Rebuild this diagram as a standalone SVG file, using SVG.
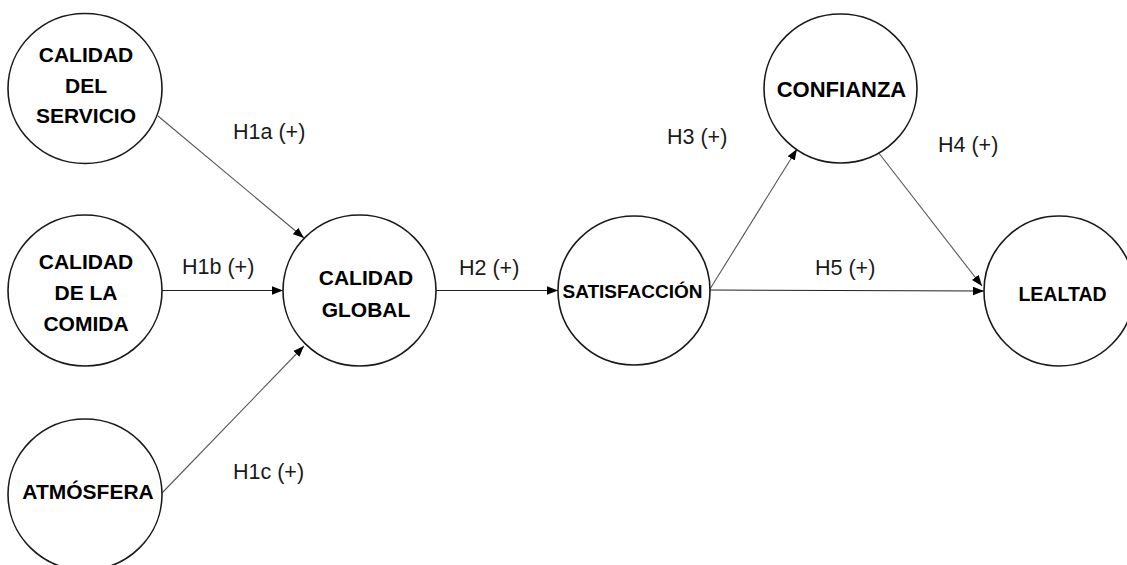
<svg xmlns="http://www.w3.org/2000/svg" width="1127" height="565" viewBox="0 0 1127 565">
<style>
.node ellipse{fill:#fff;stroke:#1a1a1a;stroke-width:1.6}
.nt{font-family:"Liberation Sans",Arial,sans-serif;font-weight:bold;font-size:21px;fill:#000;text-anchor:middle}
.lbl{font-family:"Liberation Sans",Arial,sans-serif;font-size:21.5px;fill:#1a1a1a}
.edge{stroke:#555;stroke-width:1.1;fill:none;marker-end:url(#arr)}
.edge.h{stroke:#222}
</style>
<defs>
<marker id="arr" markerUnits="userSpaceOnUse" markerWidth="12" markerHeight="10" viewBox="0 0 12 10" refX="11" refY="5" orient="auto">
<path d="M0,0.8 L11,5 L0,9.2 Z" fill="#000"/>
</marker>
</defs>
<rect width="1127" height="565" fill="#fff"/>
<g id="connectors">
<line class="edge" x1="158" y1="116" x2="304" y2="238"/>
<line class="edge h" x1="162" y1="290.5" x2="283" y2="290.5"/>
<line class="edge" x1="162" y1="493" x2="304" y2="346"/>
<line class="edge h" x1="436" y1="290.5" x2="558" y2="290.5"/>
<line class="edge" x1="710" y1="289" x2="797" y2="149"/>
<line class="edge" x1="878" y1="152" x2="982" y2="286"/>
<line class="edge h" x1="710" y1="290" x2="984" y2="291"/>
</g>
<g id="labels">
<text class="lbl" x="233" y="139">H1a (+)</text>
<text class="lbl" x="182" y="274">H1b (+)</text>
<text class="lbl" x="233" y="479">H1c (+)</text>
<text class="lbl" x="459" y="275">H2 (+)</text>
<text class="lbl" x="667" y="144">H3 (+)</text>
<text class="lbl" x="938" y="152">H4 (+)</text>
<text class="lbl" x="815" y="275">H5 (+)</text>
</g>
<g id="n-servicio" class="node">
<ellipse cx="85" cy="88.5" rx="77" ry="75"/>
<text class="nt" x="86" y="62">CALIDAD</text>
<text class="nt" x="86" y="93">DEL</text>
<text class="nt" x="86" y="123">SERVICIO</text>
</g>
<g id="n-comida" class="node">
<ellipse cx="85" cy="290.5" rx="77" ry="75.5"/>
<text class="nt" x="86" y="269">CALIDAD</text>
<text class="nt" x="86" y="300">DE LA</text>
<text class="nt" x="86" y="331">COMIDA</text>
</g>
<g id="n-atmosfera" class="node">
<ellipse cx="85" cy="494.5" rx="77" ry="75.5"/>
<text class="nt" x="88" y="499">ATMÓSFERA</text>
</g>
<g id="n-global" class="node">
<ellipse cx="359.5" cy="290.5" rx="76.5" ry="75.5"/>
<text class="nt" x="366" y="285">CALIDAD</text>
<text class="nt" x="366" y="317">GLOBAL</text>
</g>
<g id="n-satisfaccion" class="node">
<ellipse cx="634" cy="290.5" rx="76" ry="74.5"/>
<text class="nt" x="632.5" y="298" style="font-size:19px">SATISFACCIÓN</text>
</g>
<g id="n-confianza" class="node">
<ellipse cx="840.5" cy="88.5" rx="76.5" ry="74.5"/>
<text class="nt" x="841.5" y="97" style="font-size:22px">CONFIANZA</text>
</g>
<g id="n-lealtad" class="node">
<ellipse cx="1059" cy="291" rx="75" ry="75"/>
<text class="nt" x="1062.5" y="301" style="font-size:19.5px">LEALTAD</text>
</g>
</svg>
